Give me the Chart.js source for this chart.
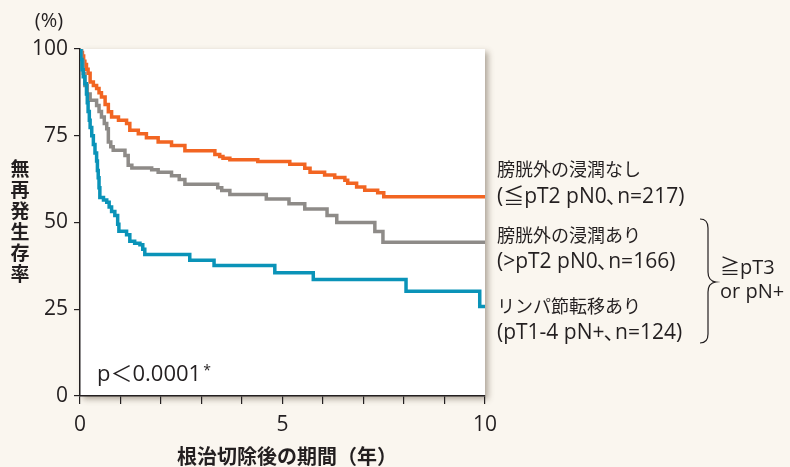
<!DOCTYPE html>
<html>
<head>
<meta charset="utf-8">
<script src="https://cdn.jsdelivr.net/npm/chart.js@4/dist/chart.umd.min.js"></script>
<style>
    html, body { margin: 0; padding: 0; background: #faf6ef; }
    #wrap { width: 790px; height: 467px; position: relative; }
</style>
</head>
<body>
<div id="wrap"><canvas id="km-chart" width="790" height="467"></canvas></div>
<script>
// survival curves: time (years) of each step and the value (%) after it
const orange_t = [0, 0.03, 0.06, 0.09, 0.12, 0.16, 0.2, 0.25, 0.33, 0.41, 0.47, 0.53, 0.62, 0.7, 0.78, 0.95, 1.15, 1.23, 1.44, 1.64, 1.93, 2.26, 2.59, 3.33, 3.45, 3.53, 3.7, 4.39, 5.18, 5.55, 5.68, 6.04, 6.29, 6.54, 6.61, 6.83, 7.03, 7.35, 7.5, 10];
const orange_v = [100, 99, 98, 96.5, 95.5, 94.2, 93, 90.5, 89.5, 88.6, 87.4, 86.2, 84, 81.9, 80.4, 79.5, 78.5, 76.6, 75.6, 74.4, 73.2, 72.2, 70.7, 69.6, 69.0, 68.5, 68.1, 67.6, 66.8, 65.6, 64.5, 63.7, 63.0, 62.2, 61.3, 60.2, 59.3, 58.6, 57.4, 57.4];

const gray_t = [0, 0.04, 0.08, 0.12, 0.18, 0.25, 0.41, 0.47, 0.53, 0.6, 0.66, 0.7, 0.76, 0.82, 1.11, 1.19, 1.28, 1.77, 1.93, 2.26, 2.45, 2.59, 3.4, 3.5, 3.7, 4.6, 5.16, 5.55, 6.1, 6.34, 7.28, 7.48, 10];
const gray_v = [100, 96.5, 93, 89.5, 87, 85.2, 83.7, 82, 80.4, 78.5, 77, 73.2, 71.8, 70.8, 69.3, 66.5, 65.7, 65.2, 64.5, 63.5, 62.4, 61.0, 60.0, 59.2, 58.1, 56.8, 55.4, 53.9, 52, 50, 47.4, 44.3, 44.3];

const blue_t = [0, 0.02, 0.05, 0.08, 0.12, 0.16, 0.18, 0.2, 0.23, 0.25, 0.29, 0.33, 0.37, 0.41, 0.43, 0.45, 0.47, 0.49, 0.58, 0.66, 0.72, 0.78, 0.86, 0.93, 0.96, 1.15, 1.23, 1.35, 1.48, 1.55, 1.6, 2.71, 3.31, 4.81, 5.76, 8.05, 9.87, 10];
const blue_v = [100, 97, 94, 92, 90, 87, 84.5, 82, 79.5, 77.4, 75, 72.5, 70, 67.7, 65, 62.9, 60, 57.2, 56.5, 55.8, 54.5, 53.2, 52, 49.5, 47.5, 46.5, 44.6, 44, 43.6, 42.3, 40.8, 39.1, 37.6, 35.5, 33.6, 30.2, 25.8, 25.8];

const y_ticks = [0, 25, 50, 75, 100];
const x_labels = [0, 5, 10];

const group_labels = [
    ["膀胱外の浸潤なし", "(≦pT2 pN0、n=217)"],
    ["膀胱外の浸潤あり", "(>pT2 pN0、n=166)"],
    ["リンパ節転移あり", "(pT1-4 pN+、n=124)"]
];
const bracket_label = ["≧pT3", "or pN+"];
const y_title = "無再発生存率";
const x_title = "根治切除後の期間（年）";
const p_text = "p＜0.0001";

// latin glyphs from Open Sans, kana/kanji fall back to Noto CJK
const font_family = "'Open Sans', 'Noto Sans CJK JP', sans-serif";
const jp_family = "'Noto Sans CJK JP', sans-serif";
const text_color = "#231f20";

function toPoints(ts, vs) {
    return ts.map((t, i) => ({ x: t, y: vs[i] }));
}

function makeSet(ts, vs, color) {
    return {
        data: toPoints(ts, vs),
        borderColor: color,
        borderWidth: 3.5,
        pointRadius: 0,
        stepped: "before",
        fill: false
    };
}

// draws a line of text but gives the ideographic comma only half a width
function fillTight(ctx, text, x, y) {
    let parts = text.split("、");
    for (let i = 0; i < parts.length; i++) {
        ctx.fillText(parts[i], x, y);
        x += ctx.measureText(parts[i]).width;
        if (i < parts.length - 1) {
            ctx.fillText("、", x - 1, y);
            x += ctx.measureText("、").width * 0.5;
        }
    }
}

// white panel with a soft shadow behind the plot
const panelPlugin = {
    id: "panel",
    beforeDraw(chart) {
        const ctx = chart.ctx;
        const a = chart.chartArea;
        ctx.save();
        ctx.shadowColor = "rgba(80, 65, 45, 0.45)";
        ctx.shadowBlur = 6;
        ctx.shadowOffsetX = 3;
        ctx.shadowOffsetY = 3;
        ctx.fillStyle = "#ffffff";
        ctx.fillRect(a.left, a.top, a.right - a.left, a.bottom - a.top);
        ctx.restore();
    }
};

// titles, labels and the brace on the right
const textPlugin = {
    id: "texts",
    afterDraw(chart) {
        const ctx = chart.ctx;
        ctx.save();
        ctx.fillStyle = text_color;
        ctx.textBaseline = "middle";

        ctx.font = "20px " + font_family;
        ctx.textAlign = "center";
        ctx.fillText("(%)", 49, 21);

        // vertical y title, one character per line
        ctx.font = "bold 19px " + jp_family;
        for (let i = 0; i < y_title.length; i++) {
            ctx.fillText(y_title[i], 20, 169 + i * 21);
        }

        ctx.font = "bold 20px " + jp_family;
        ctx.fillText(x_title, 287, 456);

        ctx.textAlign = "left";
        ctx.font = "22px " + font_family;
        ctx.fillText(p_text, 97, 375);
        let pw = ctx.measureText(p_text).width;
        ctx.font = "14px " + font_family;
        ctx.fillText("*", 97 + pw + 2, 371);

        const rows = [[171, 197], [237, 262], [308, 333]];
        for (let g = 0; g < group_labels.length; g++) {
            ctx.font = "18px " + font_family;
            ctx.fillText(group_labels[g][0], 497, rows[g][0]);
            ctx.font = "21px " + font_family;
            fillTight(ctx, group_labels[g][1], 497, rows[g][1]);
        }

        ctx.font = "20px " + font_family;
        ctx.fillText(bracket_label[0], 720, 268);
        ctx.fillText(bracket_label[1], 720, 292);

        // curly brace
        ctx.strokeStyle = text_color;
        ctx.lineWidth = 1.2;
        ctx.beginPath();
        ctx.moveTo(700, 219);
        ctx.quadraticCurveTo(708, 219, 708, 228);
        ctx.lineTo(708, 272);
        ctx.quadraticCurveTo(708, 281, 716, 282);
        ctx.quadraticCurveTo(708, 283, 708, 292);
        ctx.lineTo(708, 334);
        ctx.quadraticCurveTo(708, 343, 700, 343);
        ctx.stroke();
        ctx.restore();
    }
};

const ctx = document.getElementById("km-chart").getContext("2d");
const chart = new Chart(ctx, {
    type: "line",
    data: {
        datasets: [
            makeSet(blue_t, blue_v, "#0a93b8"),
            makeSet(gray_t, gray_v, "#8e8b88"),
            makeSet(orange_t, orange_v, "#f26522")
        ]
    },
    options: {
        responsive: false,
        animation: false,
        events: [],
        layout: { padding: { top: 49, right: 305, left: 0, bottom: 0 } },
        plugins: { legend: { display: false }, tooltip: { enabled: false } },
        scales: {
            x: {
                type: "linear",
                min: 0,
                max: 10,
                afterFit(scale) { scale.height = 71; },
                afterBuildTicks(scale) {
                    scale.ticks = [];
                    for (let i = 0; i <= 10; i++) scale.ticks.push({ value: i });
                },
                grid: { drawOnChartArea: false, drawTicks: true, tickLength: 8, color: text_color, lineWidth: 1.2 },
                border: { display: true, color: text_color, width: 1.5 },
                ticks: {
                    autoSkip: false,
                    maxRotation: 0,
                    padding: 8,
                    color: text_color,
                    font: { family: font_family, size: 21 },
                    callback: (v) => x_labels.includes(v) ? String(v) : ""
                }
            },
            y: {
                min: 0,
                max: 100,
                afterFit(scale) { scale.width = 80; },
                afterBuildTicks(scale) {
                    scale.ticks = y_ticks.map(v => ({ value: v }));
                },
                grid: { drawOnChartArea: false, drawTicks: true, tickLength: 6, color: text_color, lineWidth: 1.2 },
                border: { display: true, color: text_color, width: 1.5 },
                ticks: {
                    padding: 6,
                    color: text_color,
                    font: { family: font_family, size: 21 }
                }
            }
        }
    },
    plugins: [panelPlugin, textPlugin]
});
</script>
</body>
</html>
